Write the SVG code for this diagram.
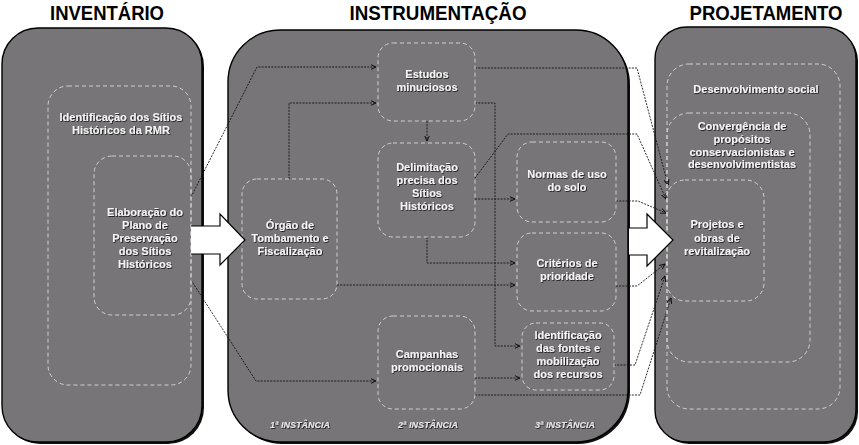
<svg xmlns="http://www.w3.org/2000/svg" width="859" height="445" viewBox="0 0 859 445">
<defs>
<style>
.title{font-family:"Liberation Sans",Arial,sans-serif;font-weight:bold;font-size:20px;fill:#000;text-anchor:middle}
.panel{fill:#777577;stroke:#000;stroke-width:1.4}
.shadow{fill:#111}
.box{fill:none;stroke:#d2d2d2;stroke-width:1;stroke-dasharray:4 3}
.lbl{font-family:"Liberation Sans",Arial,sans-serif;font-weight:bold;font-size:11px;fill:#f4f4f4;text-anchor:middle}
.inst{font-family:"Liberation Sans",Arial,sans-serif;font-weight:bold;font-style:italic;font-size:9px;fill:#e6e6e6;text-anchor:middle}
.con{fill:none;stroke:#151515;stroke-width:0.9;stroke-dasharray:2 1.2}
.big{fill:#fff;stroke:none}
.bigo{fill:none;stroke:#000;stroke-width:1.2;stroke-linejoin:miter}
</style>
<filter id="ts" x="-10%" y="-30%" width="130%" height="170%">
<feDropShadow dx="0.8" dy="0.8" stdDeviation="0.7" flood-color="#000" flood-opacity="0.85"/>
</filter>
<marker id="ah" viewBox="0 0 6 6" refX="5.5" refY="3" markerWidth="6" markerHeight="6" markerUnits="userSpaceOnUse" orient="auto">
<path d="M0,0.5 L5.5,3 L0,5.5" fill="none" stroke="#111" stroke-width="1"/>
</marker>
</defs>
<rect width="859" height="445" fill="#fff"/>

<g id="titles">
<text class="title" x="107" y="20" textLength="114" lengthAdjust="spacingAndGlyphs">INVENTÁRIO</text>
<text class="title" x="438" y="20" textLength="177" lengthAdjust="spacingAndGlyphs">INSTRUMENTAÇÃO</text>
<text class="title" x="766" y="20" textLength="153" lengthAdjust="spacingAndGlyphs">PROJETAMENTO</text>
</g>

<g id="panel-inventario">
<rect class="shadow" x="4" y="30" width="200" height="414" rx="36"/>
<rect class="panel" x="2" y="28" width="200" height="414" rx="36"/>
</g>
<g id="panel-instrumentacao">
<rect class="shadow" x="230" y="32" width="400" height="412" rx="52"/>
<rect class="panel" x="228" y="30" width="400" height="412" rx="52"/>
</g>
<g id="panel-projetamento">
<rect class="shadow" x="657" y="29" width="201" height="415" rx="32"/>
<rect class="panel" x="655" y="27" width="201" height="415" rx="32"/>
</g>

<g id="connectors">
<path class="con" d="M191,197 L257,67 L376,67" marker-end="url(#ah)"/>
<path class="con" d="M191,280 L256,381 L376,381" marker-end="url(#ah)"/>
<path class="con" d="M289,179 V103 H376" marker-end="url(#ah)"/>
<path class="con" d="M427,121 V141" marker-end="url(#ah)"/>
<path class="con" d="M475,103 H495 V346 H520" marker-end="url(#ah)"/>
<path class="con" d="M475,68 H637 L668,185" marker-end="url(#ah)"/>
<path class="con" d="M475,178 L508,134 H637 L666,199" marker-end="url(#ah)"/>
<path class="con" d="M475,199 H515" marker-end="url(#ah)"/>
<path class="con" d="M427,237 V263 H515" marker-end="url(#ah)"/>
<path class="con" d="M337,285 H515" marker-end="url(#ah)"/>
<path class="con" d="M616,201 H638 L666,213" marker-end="url(#ah)"/>
<path class="con" d="M616,286 H637 L665,264" marker-end="url(#ah)"/>
<path class="con" d="M614,365 H635 L665,276" marker-end="url(#ah)"/>
<path class="con" d="M475,395 H640 L671,298" marker-end="url(#ah)"/>
<path class="con" d="M475,378 H520" marker-end="url(#ah)"/>
</g>

<g id="n-identificacao-sitios">
<rect class="box" x="48" y="86" width="143" height="299" rx="20"/>
<text class="lbl" filter="url(#ts)" x="121" y="121">Identificação dos Sítios</text>
<text class="lbl" filter="url(#ts)" x="121" y="134">Históricos da RMR</text>
</g>
<g id="n-elaboracao">
<rect class="box" x="94" y="156" width="97" height="159" rx="18"/>
<text class="lbl" filter="url(#ts)" x="145" y="216">Elaboração do</text>
<text class="lbl" filter="url(#ts)" x="145" y="229">Plano de</text>
<text class="lbl" filter="url(#ts)" x="145" y="242">Preservação</text>
<text class="lbl" filter="url(#ts)" x="145" y="255">dos Sítios</text>
<text class="lbl" filter="url(#ts)" x="145" y="268">Históricos</text>
</g>

<g id="n-orgao">
<rect class="box" x="242" y="179" width="95" height="120" rx="15"/>
<text class="lbl" filter="url(#ts)" x="290" y="229">Órgão de</text>
<text class="lbl" filter="url(#ts)" x="290" y="242">Tombamento e</text>
<text class="lbl" filter="url(#ts)" x="290" y="255">Fiscalização</text>
</g>
<g id="n-estudos">
<rect class="box" x="378" y="43" width="97" height="78" rx="15"/>
<text class="lbl" filter="url(#ts)" x="427" y="78">Estudos</text>
<text class="lbl" filter="url(#ts)" x="427" y="91">minuciosos</text>
</g>
<g id="n-delimitacao">
<rect class="box" x="378" y="143" width="97" height="94" rx="15"/>
<text class="lbl" filter="url(#ts)" x="427" y="171">Delimitação</text>
<text class="lbl" filter="url(#ts)" x="427" y="184">precisa dos</text>
<text class="lbl" filter="url(#ts)" x="427" y="197">Sítios</text>
<text class="lbl" filter="url(#ts)" x="427" y="210">Históricos</text>
</g>
<g id="n-campanhas">
<rect class="box" x="378" y="316" width="97" height="93" rx="15"/>
<text class="lbl" filter="url(#ts)" x="427" y="358">Campanhas</text>
<text class="lbl" filter="url(#ts)" x="427" y="371">promocionais</text>
</g>
<g id="n-normas">
<rect class="box" x="517" y="142" width="99" height="80" rx="15"/>
<text class="lbl" filter="url(#ts)" x="567" y="178">Normas de uso</text>
<text class="lbl" filter="url(#ts)" x="567" y="191">do solo</text>
</g>
<g id="n-criterios">
<rect class="box" x="517" y="233" width="99" height="78" rx="15"/>
<text class="lbl" filter="url(#ts)" x="567" y="267">Critérios de</text>
<text class="lbl" filter="url(#ts)" x="567" y="280">prioridade</text>
</g>
<g id="n-fontes">
<rect class="box" x="522" y="323" width="92" height="67" rx="14"/>
<text class="lbl" filter="url(#ts)" x="568" y="339">Identificação</text>
<text class="lbl" filter="url(#ts)" x="568" y="352">das fontes e</text>
<text class="lbl" filter="url(#ts)" x="568" y="365">mobilização</text>
<text class="lbl" filter="url(#ts)" x="568" y="378">dos recursos</text>
</g>
<g id="instancias">
<text class="inst" filter="url(#ts)" x="300" y="428">1ª INSTÂNCIA</text>
<text class="inst" filter="url(#ts)" x="428" y="428">2ª INSTÂNCIA</text>
<text class="inst" filter="url(#ts)" x="565" y="428">3ª INSTÂNCIA</text>
</g>

<g id="n-desenvolvimento">
<rect class="box" x="667" y="64" width="173" height="345" rx="22"/>
<text class="lbl" filter="url(#ts)" x="756" y="93">Desenvolvimento social</text>
</g>
<g id="n-convergencia">
<rect class="box" x="667" y="113" width="143" height="249" rx="22"/>
<text class="lbl" filter="url(#ts)" x="742" y="130">Convergência de</text>
<text class="lbl" filter="url(#ts)" x="742" y="143">propósitos</text>
<text class="lbl" filter="url(#ts)" x="742" y="156">conservacionistas e</text>
<text class="lbl" filter="url(#ts)" x="742" y="168">desenvolvimentistas</text>
</g>
<g id="n-projetos">
<rect class="box" x="667" y="180" width="97" height="121" rx="18"/>
<text class="lbl" filter="url(#ts)" x="717" y="228">Projetos e</text>
<text class="lbl" filter="url(#ts)" x="717" y="242">obras de</text>
<text class="lbl" filter="url(#ts)" x="717" y="255">revitalização</text>
</g>

<g id="big-arrow-1">
<path class="big" d="M191,226 H220 V214 L245,240 L220,265 V254 H191 Z"/>
<path class="bigo" d="M191,226 H220 V214 L245,240 L220,265 V254 H191"/>
</g>
<g id="big-arrow-2">
<path class="big" d="M629,228 H647 V214 L673,240 L647,266 V255 H629 Z"/>
<path class="bigo" d="M629,228 H647 V214 L673,240 L647,266 V255 H629"/>
</g>
</svg>
